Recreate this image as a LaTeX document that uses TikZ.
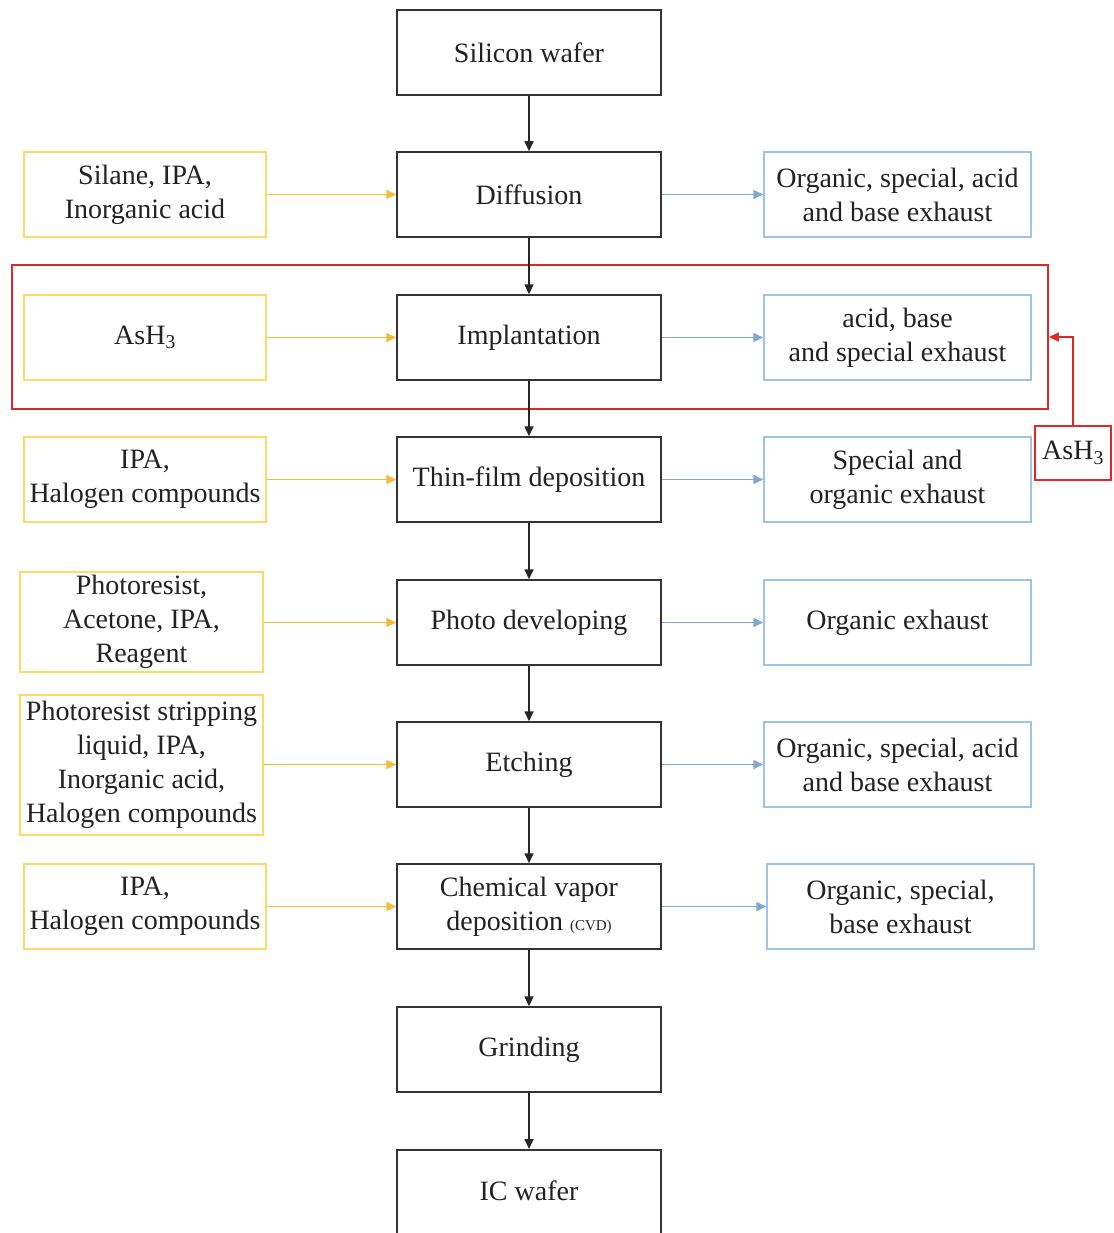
\documentclass[tikz,border=0pt]{standalone}
\usepackage{fontspec}
\setmainfont{Liberation Serif}
\usetikzlibrary{arrows.meta}
\definecolor{ybord}{HTML}{FFD966}
\definecolor{yarrow}{HTML}{F2BE3A}
\definecolor{bbord}{HTML}{9DC3E6}
\definecolor{barrow}{HTML}{7FA8D2}
\definecolor{rbord}{HTML}{E02828}
\definecolor{txt}{HTML}{222222}
\begin{document}
\begin{tikzpicture}[x=1pt,y=-1pt,
  every node/.style={font=\fontsize{28}{34}\selectfont, text=txt, align=center, inner sep=0pt},
  cbox/.style={draw=black!80, line width=1.5pt, minimum width=264pt, minimum height=85pt},
  lbox/.style={draw=ybord, line width=1.5pt},
  rbox/.style={draw=bbord, line width=1.5pt},
  redbox/.style={draw=rbord, line width=1.8pt},
  karr/.style={draw=black!85, line width=1.6pt, -{Triangle[length=10pt,width=9pt]}},
  yarr/.style={draw=yarrow, line width=1.6pt, -{Triangle[length=10pt,width=9pt]}},
  barr/.style={draw=barrow, line width=1.6pt, -{Triangle[length=10pt,width=9pt]}},
  rarr/.style={draw=rbord, line width=1.6pt, -{Triangle[length=10pt,width=9pt]}}
]
\useasboundingbox (0,0) rectangle (1113,1233);
\fill[white] (0,0) rectangle (1113,1233);

% red frame
\node[redbox, minimum width=1036pt, minimum height=144pt] (red) at (530,337) {};

% center column
\node[cbox] (sw)  at (529,52.5)  {Silicon wafer};
\node[cbox] (dif) at (529,194.5) {Diffusion};
\node[cbox] (imp) at (529,337.5) {Implantation};
\node[cbox] (thf) at (529,479.5) {Thin-film deposition};
\node[cbox] (pho) at (529,622.5) {Photo developing};
\node[cbox] (etc) at (529,764.5) {Etching};
\node[cbox] (cvd) at (529,906.5) {Chemical vapor\\deposition {\fontsize{15}{15}\selectfont (CVD)}};
\node[cbox] (grd) at (529,1049.5) {Grinding};
\node[cbox, minimum height=95pt, anchor=north] (icw) at (529,1149) {};
\node at (529,1191) {IC wafer};

% left inputs
\node[lbox, minimum width=242pt, minimum height=85pt] (l1) at (145,194.5) {Silane, IPA,\\Inorganic acid};
\node[lbox, minimum width=242pt, minimum height=85pt] (l2) at (145,337.5) {AsH\textsubscript{3}};
\node[lbox, minimum width=242pt, minimum height=85pt] (l3) at (145,479.5) {IPA,\\Halogen compounds};
\node[lbox, minimum width=243pt, minimum height=100pt] (l4) at (141.5,622) {Photoresist,\\Acetone, IPA,\\Reagent};
\node[lbox, minimum width=243pt, minimum height=140pt] (l5) at (141.5,765) {Photoresist stripping\\liquid, IPA,\\Inorganic acid,\\Halogen compounds};
\node[lbox, minimum width=242pt, minimum height=85pt] (l6) at (145,906.5) {IPA,\\Halogen compounds};

% right outputs
\node[rbox, minimum width=267pt, minimum height=85pt] (r1) at (897.5,194.5) {Organic, special, acid\\and base exhaust};
\node[rbox, minimum width=267pt, minimum height=85pt] (r2) at (897.5,337.5) {acid, base\\and special exhaust};
\node[rbox, minimum width=267pt, minimum height=85pt] (r3) at (897.5,479.5) {Special and\\organic exhaust};
\node[rbox, minimum width=267pt, minimum height=85pt] (r4) at (897.5,622.5) {Organic exhaust};
\node[rbox, minimum width=267pt, minimum height=85pt] (r5) at (897.5,764.5) {Organic, special, acid\\and base exhaust};
\node[rbox, minimum width=267pt, minimum height=85pt] (r6) at (900.5,906.5) {Organic, special,\\base exhaust};

% AsH3 red box
\node[redbox, minimum width=76pt, minimum height=54pt] (ash) at (1073,453) {AsH\textsubscript{3}};

% vertical flow
\draw[karr] (sw) -- (dif);
\draw[karr] (dif) -- (imp);
\draw[karr] (imp) -- (thf);
\draw[karr] (thf) -- (pho);
\draw[karr] (pho) -- (etc);
\draw[karr] (etc) -- (cvd);
\draw[karr] (cvd) -- (grd);
\draw[karr] (grd) -- (icw);

% inputs
\draw[yarr] (l1) -- (dif);
\draw[yarr] (l2) -- (imp);
\draw[yarr] (l3) -- (thf);
\draw[yarr] (l4.east |- pho.west) -- (pho.west);
\draw[yarr] (l5.east |- etc.west) -- (etc.west);
\draw[yarr] (l6) -- (cvd);

% outputs
\draw[barr] (dif) -- (r1);
\draw[barr] (imp) -- (r2);
\draw[barr] (thf) -- (r3);
\draw[barr] (pho) -- (r4);
\draw[barr] (etc) -- (r5);
\draw[barr] (cvd) -- (r6);

% red arrow
\draw[rarr] (ash.north) |- (red.east);
\end{tikzpicture}
\end{document}
